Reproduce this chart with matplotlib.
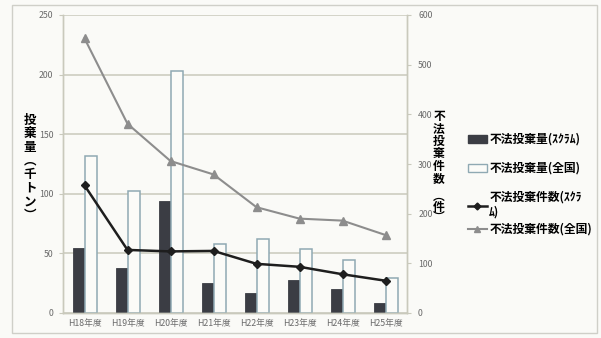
import matplotlib.pyplot as plt
import numpy as np
from matplotlib.patches import Rectangle
from matplotlib.lines import Line2D

plt.rcParams["font.family"] = ["Noto Sans CJK JP", "DejaVu Sans"]

years = ["H18年度", "H19年度", "H20年度", "H21年度", "H22年度", "H23年度", "H24年度", "H25年度"]
scrum_amount = [54.5, 37.5, 94, 25, 16.5, 27.5, 20.5, 8]
national_amount = [131.5, 102.5, 203, 57.5, 62.5, 53.5, 44.5, 29.5]
scrum_count = [257, 127, 124, 125, 99, 93, 78, 65]
national_count = [553, 381, 306, 279, 213, 190, 186, 157]

dark = "#3b3d44"
edge = "#8fa9b3"
grid = "#c9c9bc"
tick_c = "#6a6a6a"

fig = plt.figure(figsize=(6.01, 3.38), dpi=100, facecolor="#fafaf7")
ax = fig.add_axes([63 / 601, 1 - 313 / 338, 344 / 601, 298 / 338])
ax.set_facecolor("none")
ax2 = ax.twinx()

x = np.arange(len(years))
w = 0.27
ax.bar(x - 0.135, scrum_amount, w, color=dark, edgecolor=dark, linewidth=0.6, zorder=2)
ax.bar(x + 0.15, national_amount, 0.3, facecolor="#fbfbf8", edgecolor=edge, linewidth=1.1, zorder=2)

ax2.plot(x, scrum_count, color="#1e1e1e", lw=1.8, marker="D", ms=4.5, zorder=3)
ax2.plot(x, national_count, color="#8d8d8d", lw=1.5, marker="^", ms=6, zorder=3)

ax.set_xlim(-0.5, len(years) - 0.5)
ax.set_ylim(0, 250)
ax.set_yticks(range(0, 251, 50))
ax2.set_ylim(0, 600)
ax2.set_yticks(range(0, 601, 100))
ax.set_xticks(x)
ax.set_xticklabels(years, fontsize=6.5, color=tick_c)

ax.yaxis.grid(True, color=grid, lw=1.1, zorder=0)
ax.set_axisbelow(True)
for a in (ax, ax2):
    for s in a.spines.values():
        s.set_color(grid)
        s.set_linewidth(1.0)
    a.spines["top"].set_visible(False)
    a.tick_params(colors=grid, labelcolor=tick_c, labelsize=6.3, length=3, width=0.8)
ax.tick_params(axis="x", length=0, pad=4)
ax.tick_params(axis="y", pad=4)
ax2.tick_params(axis="y", pad=5)

# vertical axis titles (stacked characters)
fig.text(30 / 601, 1 - 168 / 338, "\n".join("投棄量︵千トン︶"), ha="center", va="center",
         fontsize=9, fontweight="bold", linespacing=1.06)
fig.text(439 / 601, 1 - 110 / 338, "\n".join("不法投棄件数"), ha="center", va="top",
         fontsize=8.5, fontweight="bold", linespacing=0.95)
fig.text(439 / 601, 1 - 207 / 338, "\n".join("︵件︶"), ha="center", va="center",
         fontsize=8.5, fontweight="bold", linespacing=0.75)

# legend
h1 = Rectangle((0, 0), 1, 1, facecolor=dark, edgecolor=dark)
h2 = Rectangle((0, 0), 1, 1, facecolor="#fbfbf8", edgecolor=edge)
h3 = Line2D([], [], color="#1e1e1e", lw=1.8, marker="D", ms=3.5)
h4 = Line2D([], [], color="#8d8d8d", lw=1.5, marker="^", ms=4.5)
lab = ["不法投棄量(ｽｸﾗﾑ)", "不法投棄量(全国)", "不法投棄件数(ｽｸﾗ\nﾑ)", "不法投棄件数(全国)"]
fig.legend([h1, h2, h3], lab[:3], loc="upper left", bbox_to_anchor=(462 / 601, 1 - 127 / 338),
           frameon=False, labelspacing=1.35, handlelength=1.6, handletextpad=0.2,
           borderpad=0, prop={"weight": "bold", "size": 8.5})
fig.legend([h4], lab[3:], loc="upper left", bbox_to_anchor=(462 / 601, 1 - 217 / 338),
           frameon=False, handlelength=1.6, handletextpad=0.2, borderpad=0,
           prop={"weight": "bold", "size": 8.5})

fig.patches.append(Rectangle((12 / 601, 1 - 333 / 338), 585 / 601, 328 / 338, transform=fig.transFigure,
                             fill=False, edgecolor="#cfcfc8", lw=1.0))

fig.savefig("out.png", dpi=100, facecolor=fig.get_facecolor())
